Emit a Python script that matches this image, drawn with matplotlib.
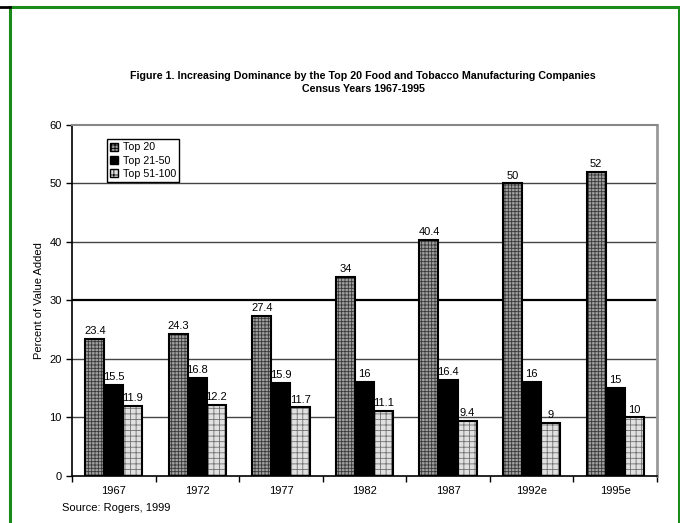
import numpy as np
import matplotlib
matplotlib.use("Agg")
import matplotlib.pyplot as plt
from matplotlib.patches import Rectangle, Patch
from matplotlib.lines import Line2D

years = ["1967", "1972", "1977", "1982", "1987", "1992e", "1995e"]
top20 = [23.4, 24.3, 27.4, 34, 40.4, 50, 52]
top21_50 = [15.5, 16.8, 15.9, 16, 16.4, 16, 15]
top51_100 = [11.9, 12.2, 11.7, 11.1, 9.4, 9, 10]
series_names = ["Top 20", "Top 21-50", "Top 51-100"]

plt.rcParams["font.family"] = ["Liberation Sans", "DejaVu Sans"]
plt.rcParams["hatch.linewidth"] = 0.6

fig = plt.figure(figsize=(6.8, 5.23), dpi=100)
ax = fig.add_axes([0.106, 0.09, 0.86, 0.671])

x = np.arange(len(years))
w = 0.228
styles = [("#a0a0a0", "#383838", "+++++"),
          ("black", "black", None),
          ("#e0e0e0", "#707070", "+++")]

for i, (vals, st) in enumerate(zip([top20, top21_50, top51_100], styles)):
    pos = x + (i - 1) * w
    fc, hc, h = st
    ax.bar(pos, vals, w, color=fc, edgecolor=hc, hatch=h, linewidth=0, zorder=3)
    ax.bar(pos, vals, w, fill=False, edgecolor="black", linewidth=1.5, zorder=4)
    for p, v in zip(pos, vals):
        ax.text(p, v + 0.5, f"{v:g}", ha="center", va="bottom", fontsize=8, zorder=5)

for g in [10, 20, 40, 50]:
    ax.axhline(g, color="#444444", lw=1.0, zorder=1)
ax.axhline(30, color="black", lw=1.6, zorder=1)

ax.set_xlim(-0.5, len(years) - 0.5)
ax.set_ylim(0, 60)
ax.set_yticks(range(0, 61, 10))
ax.set_xticks(x)
ax.set_xticklabels(years, fontsize=8)
ax.set_xticks(np.arange(-0.5, len(years), 1), minor=True)
ax.tick_params(axis="x", which="major", length=0, pad=7)
ax.tick_params(axis="x", which="minor", length=4, width=1, direction="out")
ax.tick_params(axis="y", labelsize=8, length=4, width=1, direction="out")
ax.set_ylabel("Percent of Value Added", fontsize=8, labelpad=4)

ax.spines["top"].set_color("#888888")
ax.spines["top"].set_linewidth(1.5)
ax.spines["right"].set_color("#999999")
ax.spines["right"].set_linewidth(2)
ax.spines["left"].set_linewidth(1.2)
ax.spines["bottom"].set_linewidth(1.2)

handles = [Patch(facecolor=s[0], edgecolor="black", hatch=s[2], linewidth=1) for s in styles]
leg = ax.legend(handles, series_names, loc="upper left", bbox_to_anchor=(0.05, 0.975),
                fontsize=7.7, frameon=True, fancybox=False, framealpha=1,
                handlelength=0.8, handleheight=0.8, handletextpad=0.4,
                borderpad=0.3, labelspacing=0.3)
leg.get_frame().set_edgecolor("black")
leg.get_frame().set_linewidth(1)

fig.text(0.534, 0.855, "Figure 1. Increasing Dominance by the Top 20 Food and Tobacco Manufacturing Companies",
         ha="center", va="center", fontsize=7.7, fontweight="bold")
fig.text(0.534, 0.830, "Census Years 1967-1995", ha="center", va="center",
         fontsize=7.7, fontweight="bold")
fig.text(0.091, 0.028, "Source: Rogers, 1999", ha="left", va="center", fontsize=8)

fig.add_artist(Rectangle((9.5 / 680, -0.05), 669 / 680, 1.05 - 6.5 / 523,
                         transform=fig.transFigure, fill=False,
                         edgecolor="#1a8a1a", linewidth=2.2))
fig.add_artist(Line2D([0, 9.5 / 680], [1 - 6.5 / 523] * 2, transform=fig.transFigure,
                      color="black", lw=2))

fig.savefig("out.png", dpi=100)
